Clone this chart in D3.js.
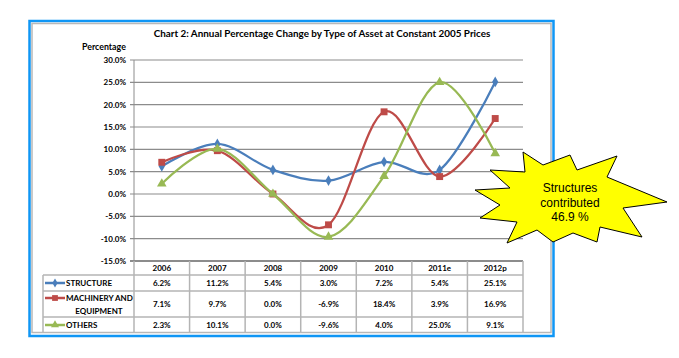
<meta charset="utf-8">
<script src="https://d3js.org/d3.v7.min.js"></script>
<style>
  body { margin: 0; background: #fff; }
  text { font-family: Lato, "Open Sans", sans-serif; }
</style>
<div id="chart"></div>
<script>
// data
var years = ["2006", "2007", "2008", "2009", "2010", "2011e", "2012p"];
var structure = [6.2, 11.2, 5.4, 3.0, 7.2, 5.4, 25.1];
var machinery = [7.1, 9.7, 0.0, -6.9, 18.4, 3.9, 16.9];
var others = [2.3, 10.1, 0.0, -9.6, 4.0, 25.0, 9.1];
var yTicks = [30, 25, 20, 15, 10, 5, 0, -5, -10, -15];

var series = [
  { name: ["STRUCTURE"], values: structure, color: "#4a7ebb", marker: d3.symbolDiamond, size: 34 },
  { name: ["MACHINERY AND", "EQUIPMENT"], values: machinery, color: "#be4b48", marker: d3.symbolSquare, size: 48 },
  { name: ["OTHERS"], values: others, color: "#98b954", marker: d3.symbolTriangle, size: 40 }
];

var W = 679, H = 358;
var svg = d3.select("#chart").append("svg")
  .attr("width", W).attr("height", H);

// frame
svg.append("rect").attr("x", 29.5).attr("y", 21).attr("width", 524).attr("height", 315)
  .attr("fill", "#fff").attr("stroke", "#0f96f5").attr("stroke-width", 2.5);
svg.append("rect").attr("x", 32).attr("y", 23.5).attr("width", 519).attr("height", 309)
  .attr("fill", "none").attr("stroke", "#b8b8b8").attr("stroke-width", 1.5);

// title
svg.append("text").attr("x", 322).attr("y", 37)
  .attr("text-anchor", "middle").attr("font-size", 9.9).attr("font-weight", "bold")
  .text("Chart 2: Annual Percentage  Change by Type of Asset  at Constant 2005 Prices");

svg.append("text").attr("x", 82).attr("y", 50)
  .attr("font-size", 8.8).attr("font-weight", "bold").text("Percentage");

var x = d3.scaleBand().domain(years).range([134, 523]);
var y = d3.scaleLinear().domain([-15, 30]).range([261, 60]);

// grid
svg.append("g").selectAll("line").data(yTicks).join("line")
  .attr("x1", 130).attr("x2", 523)
  .attr("y1", d => y(d)).attr("y2", d => y(d))
  .attr("stroke", "#8c8c8c").attr("stroke-width", 1.2);

svg.append("g").selectAll("text").data(yTicks).join("text")
  .attr("x", 126).attr("y", d => y(d) + 3)
  .attr("text-anchor", "end").attr("font-size", 8).attr("font-weight", "bold")
  .text(d => d.toFixed(1) + "%");

svg.append("line").attr("x1", 134).attr("x2", 134).attr("y1", 60).attr("y2", 261)
  .attr("stroke", "#8c8c8c");

// table
var rows = [261, 275, 291, 317, 332];
var tg = svg.append("g").attr("stroke", "#b4b4b4").attr("stroke-width", 1.5);
tg.append("line").attr("x1", 130).attr("x2", 523).attr("y1", 261).attr("y2", 261)
  .attr("stroke", "#8c8c8c").attr("stroke-width", 2);
rows.slice(1, 4).forEach(function(r) {
  tg.append("line").attr("x1", 43).attr("x2", 523).attr("y1", r).attr("y2", r);
});
tg.append("line").attr("x1", 43).attr("x2", 43).attr("y1", 275).attr("y2", 332);
x.domain().forEach(function(d) {
  tg.append("line").attr("x1", x(d)).attr("x2", x(d)).attr("y1", 261).attr("y2", 332);
});
tg.append("line").attr("x1", 523).attr("x2", 523).attr("y1", 261).attr("y2", 332);

svg.append("g").selectAll("text").data(years).join("text")
  .attr("x", d => x(d) + x.bandwidth() / 2).attr("y", 271)
  .attr("text-anchor", "middle").attr("font-size", 8).attr("font-weight", "bold")
  .text(d => d);

var rowMid = [283, 304, 325];
series.forEach(function(s, i) {
  var g = svg.append("g");
  g.selectAll("text").data(s.values).join("text")
    .attr("x", (d, j) => x(years[j]) + x.bandwidth() / 2).attr("y", rowMid[i] + 3)
    .attr("text-anchor", "middle").attr("font-size", 8).attr("font-weight", "bold")
    .text(d => d.toFixed(1) + "%");
  var ly = s.name.length > 1 ? rowMid[i] - 6 : rowMid[i];
  g.append("line").attr("x1", 45).attr("x2", 65).attr("y1", ly).attr("y2", ly)
    .attr("stroke", s.color).attr("stroke-width", 2.5);
  g.append("path").attr("d", d3.symbol(s.marker, s.size * 0.7)())
    .attr("transform", "translate(55," + ly + ")").attr("fill", s.color);
  s.name.forEach(function(t, k) {
    g.append("text").attr("x", k === 0 ? 66 : 99).attr("y", ly + 3 + k * 12.5)
      .attr("text-anchor", k === 0 ? "start" : "middle")
      .attr("font-size", 8).attr("font-weight", "bold").text(t);
  });
});

// lines
var line = d3.line()
  .x((d, j) => x(years[j]) + x.bandwidth() / 2)
  .y(d => y(d))
  .curve(d3.curveCatmullRom.alpha(0));

series.forEach(function(s) {
  svg.append("path").datum(s.values).attr("d", line)
    .attr("fill", "none").attr("stroke", s.color).attr("stroke-width", 2.25);
  svg.append("g").selectAll("path").data(s.values).join("path")
    .attr("d", d3.symbol(s.marker, s.size)())
    .attr("transform", (d, j) => "translate(" + (x(years[j]) + x.bandwidth() / 2) + "," + y(d) + ")")
    .attr("fill", s.color);
});

// starburst callout
var cx = 570, cy = 200;
var burst = [[-95, -10], [-60, -12], [-80, -30], [-45, -28], [-47, -48], [-27, -35], [0, -45], [7, -30],
  [47, -44], [37, -23], [97, 2], [53, 8], [72, 37], [30, 27], [27, 42], [3, 33], [-17, 42], [-33, 30],
  [-63, 43], [-53, 22], [-90, 18], [-70, 5]];
svg.append("polygon")
  .attr("points", burst.map(p => (cx + p[0]) + "," + (cy + p[1])).join(" "))
  .attr("fill", "#ffff00").attr("stroke", "#000").attr("stroke-width", 1);
["Structures", "contributed", "46.9 %"].forEach(function(t, k) {
  svg.append("text").attr("x", cx).attr("y", 192 + k * 14.5)
    .attr("text-anchor", "middle").attr("font-size", 12)
    .style("font-family", "'Liberation Sans', Arial, sans-serif").text(t);
});
</script>
